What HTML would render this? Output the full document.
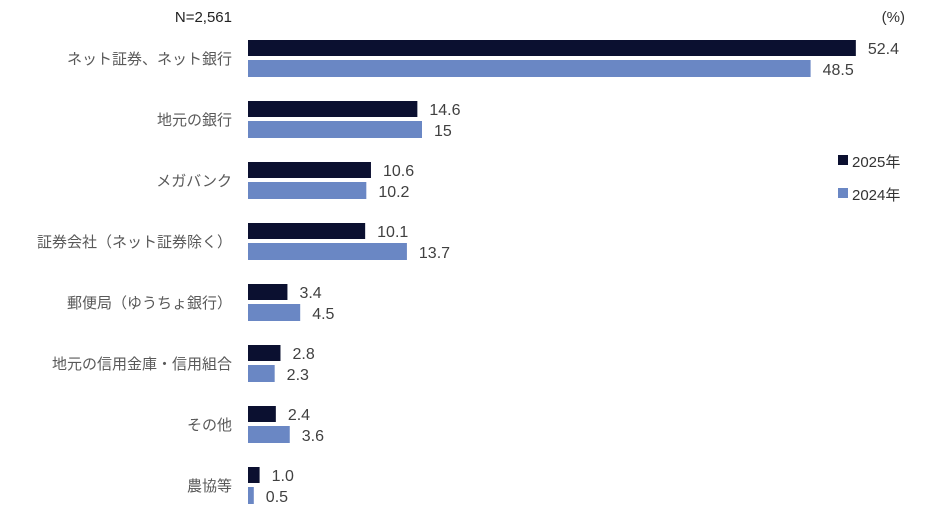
<!DOCTYPE html>
<html><head><meta charset="utf-8"><style>
body{margin:0;background:#fff;}
svg{display:block;font-family:"Liberation Sans","Noto Sans CJK JP",sans-serif;}
</style></head><body>
<svg id="c" width="933" height="528">
<text x="232" y="22" text-anchor="end" font-size="15" fill="#222">N=2,561</text>
<text x="905" y="22" text-anchor="end" font-size="15" fill="#333">(%)</text>
<g>
<rect x="838" y="155" width="10" height="10" fill="#0b1030"/>
<text x="852" y="167" font-size="15" fill="#333">2025年</text>
<rect x="838" y="188" width="10" height="10" fill="#6a87c4"/>
<text x="852" y="200" font-size="15" fill="#333">2024年</text>
</g>
</svg>
<script>
const categories=["ネット証券、ネット銀行","地元の銀行","メガバンク","証券会社（ネット証券除く）","郵便局（ゆうちょ銀行）","地元の信用金庫・信用組合","その他","農協等"];
const values2025=[52.4,14.6,10.6,10.1,3.4,2.8,2.4,1.0];
const values2024=[48.5,15,10.2,13.7,4.5,2.3,3.6,0.5];
const labels2025=["52.4","14.6","10.6","10.1","3.4","2.8","2.4","1.0"];
const labels2024=["48.5","15","10.2","13.7","4.5","2.3","3.6","0.5"];
const svg=document.getElementById('c');
const NS='http://www.w3.org/2000/svg';
const x0=248, k=11.6;
const xs=v=>x0+v*k;
const yGroup=i=>40+i*61;
function mk(t,a){const e=document.createElementNS(NS,t);for(const n in a)e.setAttribute(n,a[n]);svg.appendChild(e);return e;}
categories.forEach((c,i)=>{
  const y=yGroup(i);
  const t=mk('text',{x:232,y:y+24,'text-anchor':'end','font-size':15,fill:'#595959'});
  t.textContent=c;
  
  
  const b1=mk('rect',{x:x0,y:y,width:xs(values2025[i])-x0,height:16,fill:'#0b1030'});
  
  
  const b2=mk('rect',{x:x0,y:y+20,width:xs(values2024[i])-x0,height:17,fill:'#6a87c4'});
  
  
  const l1=mk('text',{x:xs(values2025[i])+12,y:y+14,'font-size':16,fill:'#404040'});
  l1.textContent=labels2025[i];
  
  
  const l2=mk('text',{x:xs(values2024[i])+12,y:y+35,'font-size':16,fill:'#404040'});
  l2.textContent=labels2024[i];
  
  
});
</script>
</body></html>
